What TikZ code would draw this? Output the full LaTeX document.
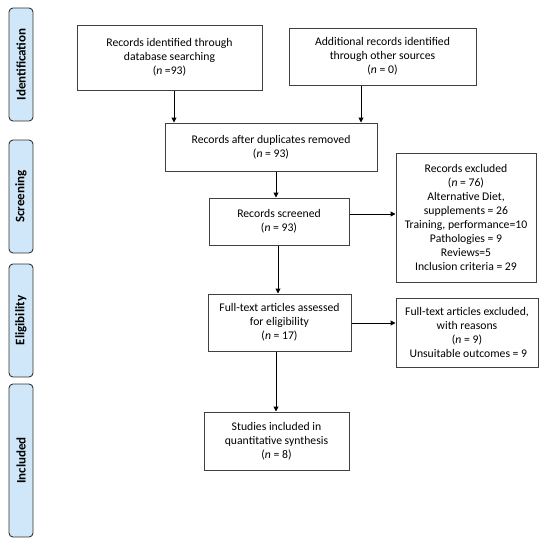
\documentclass[tikz,border=0pt]{standalone}
\usepackage{fontspec}
\setmainfont{Carlito}
\usetikzlibrary{arrows.meta}
\definecolor{tabblue}{RGB}{207,231,248}
\begin{document}
\begin{tikzpicture}[x=1pt,y=-1pt,
  tab/.style={draw=black!80,line width=0.9pt,fill=tabblue,rounded corners=4pt},
  tabtxt/.style={rotate=90,font=\bfseries\fontsize{13}{14}\selectfont},
  box/.style={draw=black!75,line width=1pt,align=center,font=\fontsize{11.7}{14}\selectfont,inner sep=0pt},
  arr/.style={-{Triangle[length=5pt,width=5pt]},line width=1pt,black}]
\useasboundingbox (0,0) rectangle (550,544);
% phase tabs
\draw[tab] (9,8) rectangle (33,121);
\node[tabtxt] (t1) at (21,64.5) {Identification};
\draw[tab] (9,140) rectangle (33,253);
\node[tabtxt] (t2) at (21,196.5) {Screening};
\draw[tab] (9,264) rectangle (33,377);
\node[tabtxt] (t3) at (21,320.5) {Eligibility};
\draw[tab] (9,384) rectangle (33,537);
\node[tabtxt] (t4) at (21,460.5) {Included};
% boxes
\node[box,minimum width=185pt,minimum height=65pt] (b1) at (169.5,57.5)
  {Records identified through\\database searching\\(\textit{n} =93)};
\node[box,minimum width=187pt,minimum height=57pt] (b2) at (382.5,56.5)
  {Additional records identified\\through other sources\\(\textit{n} = 0)};
\node[box,minimum width=212pt,minimum height=48pt] (b3) at (271,147)
  {Records after duplicates removed\\(\textit{n} = 93)};
\node[box,minimum width=140pt,minimum height=47pt] (b4) at (279,221.5)
  {Records screened\\(\textit{n} = 93)};
\node[box,minimum width=140pt,minimum height=129pt] (b5) at (466,217.5)
  {Records excluded\\(\textit{n} = 76)\\Alternative Diet,\\supplements = 26\\Training, performance=10\\Pathologies = 9\\Reviews=5\\Inclusion criteria = 29};
\node[box,minimum width=143pt,minimum height=57pt] (b6) at (279.5,322.5)
  {Full-text articles assessed\\for eligibility\\(\textit{n} = 17)};
\node[box,minimum width=142pt,minimum height=69pt] (b7) at (467,332.5)
  {Full-text articles excluded,\\with reasons\\(\textit{n} = 9)\\\ Unsuitable outcomes = 9};
\node[box,minimum width=145pt,minimum height=58pt] (b8) at (276.5,441)
  {Studies included in\\quantitative synthesis\\(\textit{n} = 8)};
% arrows
\draw[arr] (b1.south -| 174,0) -- (b3.north -| 174,0);
\draw[arr] (b2.south -| 361,0) -- (b3.north -| 361,0);
\draw[arr] (b3.south -| 276,0) -- (b4.north -| 276,0);
\draw[arr] (b4.east |- 0,214) -- (b5.west |- 0,214);
\draw[arr] (b4.south -| 278,0) -- (b6.north -| 278,0);
\draw[arr] (b6.east |- 0,323) -- (b7.west |- 0,323);
\draw[arr] (b6.south -| 276,0) -- (b8.north -| 276,0);
\end{tikzpicture}
\end{document}
